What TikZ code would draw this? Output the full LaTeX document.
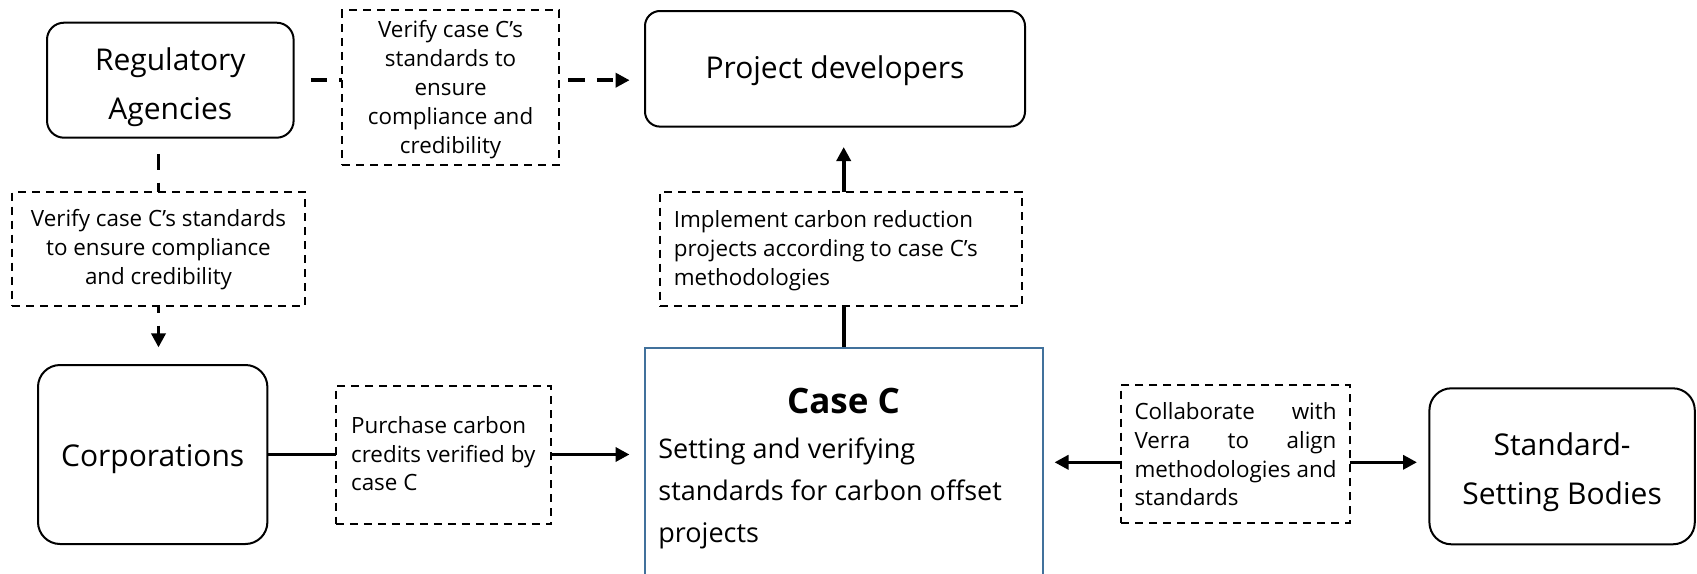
\documentclass[tikz,border=0pt]{standalone}
\usepackage{fontspec}
\setmainfont{Open Sans}
\usetikzlibrary{arrows.meta,calc}
\definecolor{caseblue}{RGB}{65,113,156}
\pgfdeclarelayer{paper}
\pgfdeclarelayer{background}
\pgfsetlayers{paper,background,main}
% centred / left-aligned line stacks, lowered by #1 below the node centre
\newcommand{\ctext}[2]{\raisebox{\dimexpr-#1-0.25em\relax}[0pt][0pt]{\begin{tabular}{@{}c@{}}#2\end{tabular}}}
\newcommand{\ltext}[3]{\raisebox{\dimexpr-#1-0.25em\relax}[0pt][0pt]{\makebox[#2][l]{\begin{tabular}{@{}l@{}}#3\end{tabular}}}}
\tikzset{
  actor/.style={draw=black, line width=1pt, rounded corners=#1, fill=white,
    inner sep=0pt, font=\fontsize{15}{24.2}\selectfont},
  actor/.default=8pt,
  note/.style={draw=black, line width=1pt, dash pattern=on 4pt off 3pt,
    fill=white, inner sep=0pt, font=\fontsize{11.2}{14.4}\selectfont},
  casebox/.style={draw=caseblue, line width=1pt, fill=white, inner sep=0pt},
  link/.style={line width=1.8pt},
  dlink/.style={link, dash pattern=on 8.2pt off 6.1pt, dash phase=8.2pt},
  tip/.style={-{Triangle[length=7pt,width=7pt]}},
  tips/.style={{Triangle[length=7pt,width=7pt]}-{Triangle[length=7pt,width=7pt]}},
}
\begin{document}
\begin{tikzpicture}[x=0.5pt,y=-0.5pt]
\useasboundingbox (0,0) rectangle (1697,573);
\begin{pgfonlayer}{paper}
  \fill[white] (0,0) rectangle (1697,573);
\end{pgfonlayer}

% stakeholders
\node[actor=8.5pt, minimum width=123.3pt, minimum height=57.5pt] (ra) at (170.3,80.2)
  {\ctext{2.5pt}{Regulatory\\Agencies}};
\node[actor=7.5pt, minimum width=190pt, minimum height=57.8pt] (pd) at (835,68.8)
  {\ctext{0pt}{Project developers}};
\node[actor=11pt, minimum width=114.7pt, minimum height=89.5pt] (corp) at (152.7,454.5)
  {\ctext{1pt}{Corporations}};
\node[actor=11pt, minimum width=132.7pt, minimum height=78pt] (ssb) at (1562.1,466.3)
  {\ctext{1.8pt}{Standard-\\Setting Bodies}};

% central case
\node[casebox, anchor=north, minimum width=198.8pt, minimum height=140pt] (casec) at (843.7,347.3) {};
\node[anchor=base, font=\fontsize{17.5}{20}\selectfont\bfseries] (casetitle) at (843.5,413.5) {Case C};
\node[anchor=base west, inner sep=0pt, font=\fontsize{13.5}{21}\selectfont] (casebody) at (658,458)
  {\parbox[t]{185pt}{\raggedright Setting and verifying\\standards for carbon offset\\projects}};

% relationship notes
\node[note, minimum width=108.3pt, minimum height=77.5pt] (l1) at (450.6,87.5)
  {\ctext{1.1pt}{Verify case C’s\\standards to\\ensure\\compliance and\\credibility}};
\node[note, minimum width=146.2pt, minimum height=57.2pt] (l3) at (158.5,248.9)
  {\ctext{0.5pt}{Verify case C’s standards\\to ensure compliance\\and credibility}};
\node[note, minimum width=180.9pt, minimum height=57.2pt] (l2) at (840.8,248.9)
  {\ltext{1pt}{166.9pt}{Implement carbon reduction\\projects according to case C’s\\methodologies}};
\node[note, minimum width=107.8pt, minimum height=69pt] (l4) at (443.6,455)
  {\ltext{0.6pt}{92.5pt}{Purchase carbon\\credits verified by\\case C}};
\node[note, minimum width=114.5pt, minimum height=69.2pt] (l5) at (1235.5,454.2)
  {\raisebox{-0.25em}[0pt][0pt]{\parbox{101pt}{%
    \hbox to\hsize{Collaborate\hfill with}%
    \hbox to\hsize{Verra\hfill to\hfill align}%
    \hbox to\hsize{methodologies\hfill and}%
    \hbox to\hsize{standards\hfill}}}};

\coordinate (rowc) at (1235.5,462.3);

% connectors run underneath the note boxes
\begin{pgfonlayer}{background}
  \draw[dlink, tip, shorten <=2pt, shorten >=7.2pt] (ra.east) -- (ra.east -| pd.west);
  \draw[dlink, tip, shorten <=1.5pt, shorten >=8.3pt] (ra.south -| l3.north) -- (l3.north |- corp.north);
  \draw[link, tip, shorten >=9.7pt] (casec.north) -- (casec.north |- pd.south);
  \draw[link, tip, shorten >=7.2pt] (corp.east) -- (corp.east -| casec.west);
  \draw[link, tips, shorten <=5.5pt, shorten >=5.7pt] (rowc -| casec.east) -- (rowc -| ssb.west);
\end{pgfonlayer}
\end{tikzpicture}
\end{document}
